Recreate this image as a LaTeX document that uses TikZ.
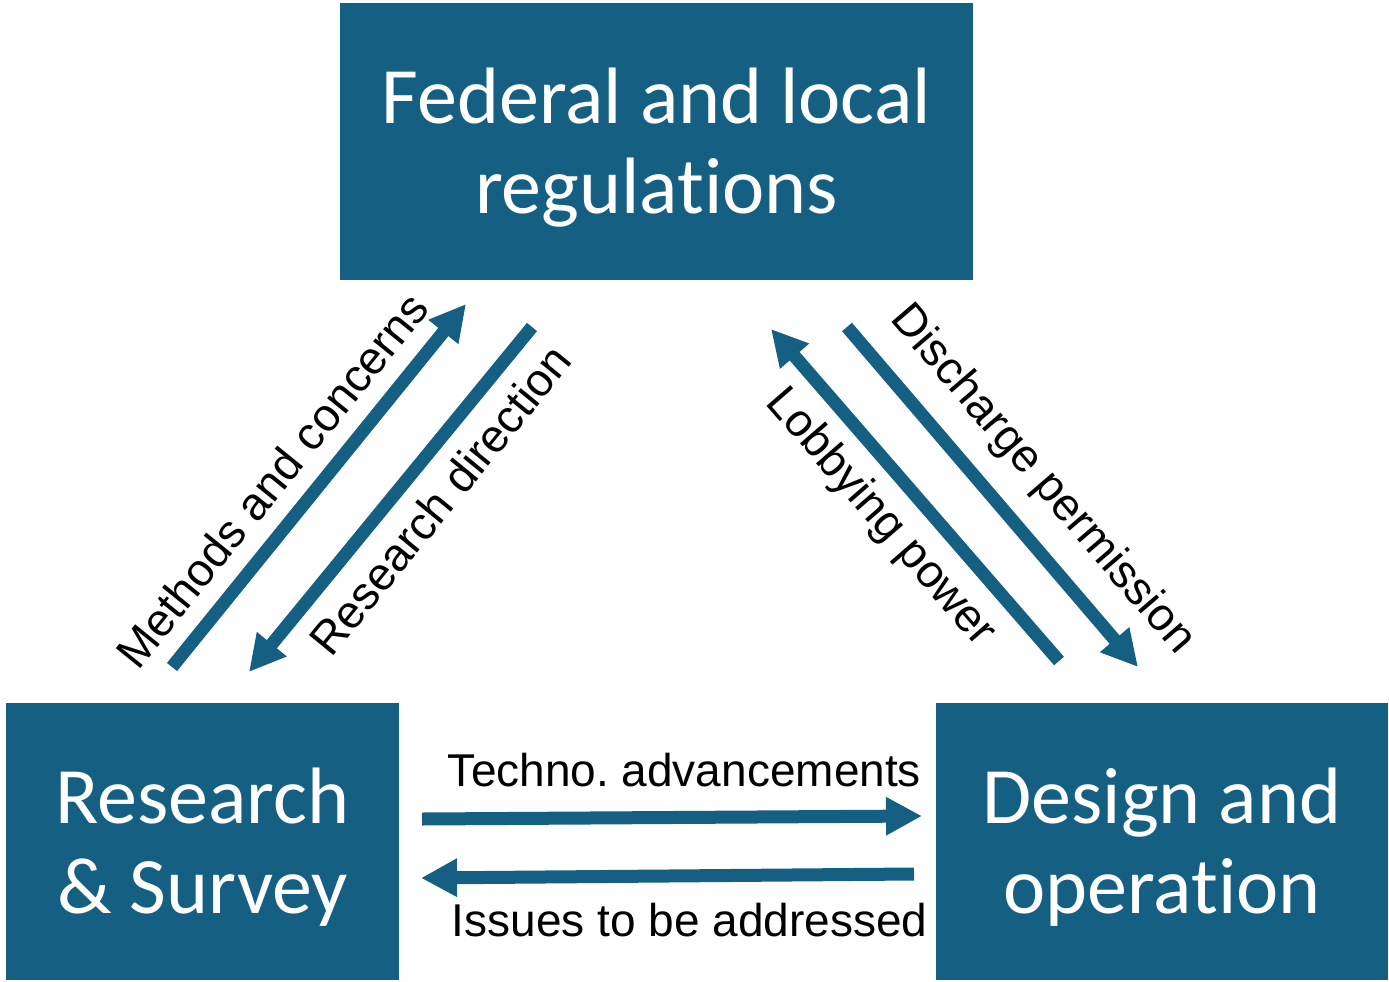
\documentclass[tikz,border=0pt]{standalone}
\usepackage{fontspec}
\setmainfont[Ligatures=NoCommon]{Carlito}
\newfontfamily\lblfont{Liberation Sans}
\usetikzlibrary{arrows.meta,calc}
\definecolor{acc}{HTML}{156082}
\frenchspacing
\begin{document}
\begin{tikzpicture}[x=1pt,y=-1pt,
  box/.style={fill=acc, inner sep=0pt},
  boxtext/.style={text=white, inner sep=0pt, align=center, font=\fontsize{80}{90}\selectfont},
  flow/.style={draw=acc, line width=13pt, -{Triangle[length=36pt,width=36pt]}},
  lbl/.style={font=\lblfont\fontsize{46}{56}\selectfont, inner sep=0pt, text=black}]
\useasboundingbox (0,0) rectangle (1389,982);

\node[box, minimum width=633pt, minimum height=277pt] (fed) at (656.5,141.5) {};
\node[box, minimum width=393pt, minimum height=277pt] (res) at (202.5,841.5) {};
\node[box, minimum width=452pt, minimum height=277pt] (des) at (1162,841.5) {};
\node[boxtext] (fedt) at ($(fed.center)+(0,6)$) {Federal and local\\regulations};
\node[boxtext] (rest) at ($(res.center)+(0,6)$) {Research\\\& Survey};
\node[boxtext] (dest) at ($(des.center)+(0,6)$) {Design and\\operation};

\coordinate (m0) at (172,667); \coordinate (m1) at (466,304);
\coordinate (r0) at (532,327); \coordinate (r1) at (249,672);
\coordinate (l0) at (1059,661); \coordinate (l1) at (771,329);
\coordinate (d0) at (847,327); \coordinate (d1) at (1138,667);
\coordinate (t0) at (422,819); \coordinate (t1) at (922,816);
\coordinate (i0) at (914,874); \coordinate (i1) at (421,878);

\draw[flow] (m0) -- (m1);
\draw[flow] (r0) -- (r1);
\draw[flow] (l0) -- (l1);
\draw[flow] (d0) -- (d1);
\draw[flow] (t0) -- (t1);
\draw[flow] (i0) -- (i1);

\node[lbl, rotate=51] (lm) at (272,480) {Methods and concerns};
\node[lbl, rotate=50.7] (lr) at (440,500) {Research direction};
\node[lbl, rotate=-49] (ll) at (880,518) {Lobbying power};
\node[lbl, rotate=-49.4] (ld) at (1042,480) {Discharge permission};
\node[lbl, anchor=base] (lt) at (684.5,786) {Techno. advancements};
\node[lbl, anchor=base] (li) at (689.5,936) {Issues to be addressed};
\end{tikzpicture}
\end{document}
